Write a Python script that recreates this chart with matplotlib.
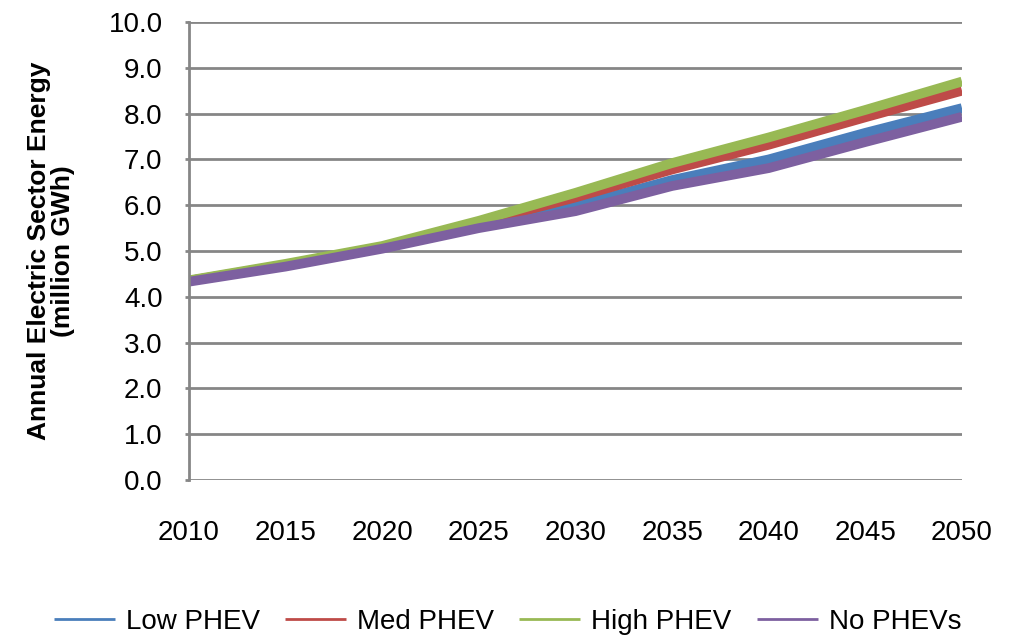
import matplotlib
matplotlib.use("Agg")
import matplotlib.pyplot as plt

plt.rcParams['font.family'] = ['Liberation Sans', 'DejaVu Sans']

# projection years and scenario totals (million GWh)
years = [2010, 2015, 2020, 2025, 2030, 2035, 2040, 2045, 2050]
low_phev = [4.35, 4.68, 5.07, 5.55, 5.98, 6.55, 7.00, 7.58, 8.12]
med_phev = [4.35, 4.70, 5.09, 5.62, 6.17, 6.78, 7.32, 7.92, 8.50]
high_phev = [4.36, 4.72, 5.11, 5.66, 6.27, 6.92, 7.48, 8.08, 8.70]
no_phev = [4.33, 4.66, 5.05, 5.50, 5.87, 6.42, 6.81, 7.38, 7.93]

series_names = ['Low PHEV', 'Med PHEV', 'High PHEV', 'No PHEVs']
series_colors = ['#4A7EBB', '#BE4B48', '#98B954', '#7D60A0']
y_ticks = [0, 1, 2, 3, 4, 5, 6, 7, 8, 9, 10]

fig = plt.figure(figsize=(10.09, 6.4), dpi=100)
ax = fig.add_axes([0.1873, 0.25, 0.7661, 0.7156])

for vals, name, col in zip([low_phev, med_phev, high_phev, no_phev], series_names, series_colors):
    ax.plot(years, vals, color=col, lw=7, label=name, solid_capstyle='butt')

ax.set_xlim(years[0], years[-1])
ax.set_ylim(0, 10)
ax.set_yticks(y_ticks)
ax.set_yticklabels([f'{v:.1f}' for v in y_ticks])
ax.set_xticks(years)
ax.set_xticklabels([str(y) for y in years])

ax.grid(axis='y', color='#868686', lw=2)
ax.set_axisbelow(True)
for side in ['top', 'right', 'bottom']:
    ax.spines[side].set_visible(False)
ax.spines['left'].set_color('#868686')
ax.spines['left'].set_linewidth(2)
ax.tick_params(axis='y', length=3, width=2, color='#868686', labelsize=20, pad=16)
ax.tick_params(axis='x', length=0, labelsize=20, pad=29)

ax.set_ylabel('Annual Electric Sector Energy\n(million GWh)', fontsize=19,
              fontweight='bold', linespacing=1.0)
ax.yaxis.set_label_coords(-0.148, 0.5)

handles, labels = ax.get_legend_handles_labels()
leg = fig.legend(handles, labels, loc='center', bbox_to_anchor=(0.503, 0.028),
                 ncol=4, frameon=False, fontsize=20, handlelength=2.2,
                 columnspacing=0.9, handletextpad=0.4)
for line in leg.get_lines():
    line.set_linewidth(2)

fig.savefig('out.png', dpi=100)
